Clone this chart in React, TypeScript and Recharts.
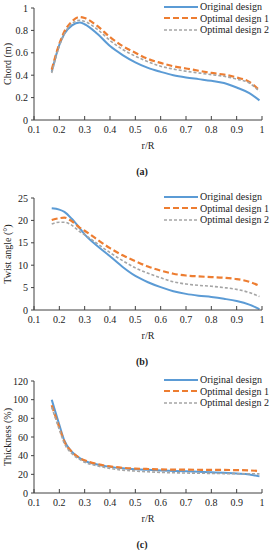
import { LineChart, Line, XAxis, YAxis, Legend } from "recharts"

// r/R stations
const rR = [0.17, 0.2, 0.22, 0.25, 0.28, 0.3, 0.35, 0.4, 0.45, 0.5, 0.55, 0.6, 0.65, 0.7, 0.75, 0.8, 0.85, 0.9, 0.95, 0.99]

const chordOriginal = [0.43, 0.67, 0.77, 0.845, 0.87, 0.855, 0.77, 0.66, 0.58, 0.515, 0.465, 0.43, 0.4, 0.38, 0.365, 0.35, 0.33, 0.29, 0.24, 0.175]
const chordOpt1 = [0.45, 0.68, 0.79, 0.88, 0.92, 0.91, 0.84, 0.74, 0.66, 0.6, 0.545, 0.51, 0.48, 0.46, 0.44, 0.42, 0.405, 0.38, 0.34, 0.265]
const chordOpt2 = [0.42, 0.66, 0.77, 0.86, 0.89, 0.88, 0.81, 0.71, 0.63, 0.57, 0.52, 0.48, 0.455, 0.435, 0.42, 0.405, 0.39, 0.365, 0.33, 0.255]

const twistOriginal = [22.7, 22.4, 21.9, 20.3, 18.3, 16.9, 14.3, 12.0, 9.6, 7.6, 6.2, 5.1, 4.2, 3.6, 3.2, 2.9, 2.5, 2.0, 1.2, 0.2]
const twistOpt1 = [20.1, 20.5, 20.6, 19.8, 18.4, 17.7, 15.7, 13.8, 12.2, 10.9, 9.7, 8.8, 8.1, 7.7, 7.5, 7.35, 7.2, 6.9, 6.3, 5.4]
const twistOpt2 = [19.2, 19.6, 19.6, 18.9, 17.5, 16.8, 14.8, 12.8, 11.0, 9.4, 8.2, 7.2, 6.3, 5.8, 5.5, 5.3, 5.0, 4.6, 3.9, 3.0]

const thickOriginal = [100, 73, 56, 44, 37.5, 34.5, 30.5, 28, 26.5, 25.5, 24.8, 24.2, 23.7, 23.2, 22.7, 22.2, 21.6, 20.8, 19.8, 17.8]
const thickOpt1 = [94, 70, 55, 44, 37.5, 35, 31, 28.5, 27, 26.2, 25.7, 25.3, 25.1, 25, 24.9, 24.8, 24.7, 24.5, 24.2, 23.6]
const thickOpt2 = [92, 68, 53, 42, 36, 33, 29, 26.3, 24.5, 23.5, 22.7, 22.1, 21.7, 21.4, 21.2, 21, 20.8, 20.7, 20.6, 20.5]

const xTicks = [0.1, 0.2, 0.3, 0.4, 0.5, 0.6, 0.7, 0.8, 0.9, 1]
const chordTicks = [0, 0.2, 0.4, 0.6, 0.8, 1]
const twistTicks = [0, 5, 10, 15, 20, 25]
const thickTicks = [0, 20, 40, 60, 80, 100, 120]

const SERIES = [
  { key: "orig", name: "Original design", color: "#5B9BD5", width: 2, dash: undefined },
  { key: "opt1", name: "Optimal design 1", color: "#ED7D31", width: 2.2, dash: "6 3" },
  { key: "opt2", name: "Optimal design 2", color: "#A5A5A5", width: 1.6, dash: "3 2" },
]

const FONT = "'Liberation Serif', 'Times New Roman', serif"
const AXIS = "#404040"

function rows(a: number[], b: number[], c: number[]) {
  return rR.map((r, i) => ({ r, orig: a[i], opt1: b[i], opt2: c[i] }))
}

const fmt = (v: number) => (v === 0 || v === 1 ? String(v) : String(v))
const fmtX = (v: number) => (v === 1 ? "1" : v.toFixed(1))

function LegendBox() {
  return (
    <div style={{ fontFamily: FONT, fontSize: 10, color: "#222" }}>
      {SERIES.map((s) => (
        <div key={s.key} style={{ display: "flex", alignItems: "center", height: 11.5 }}>
          <svg width={35} height={6} style={{ marginRight: 1 }}>
            <line x1={0} y1={3} x2={34} y2={3} stroke={s.color} strokeWidth={s.width} strokeDasharray={s.dash} />
          </svg>
          <span style={{ lineHeight: "11.5px" }}>{s.name}</span>
        </div>
      ))}
    </div>
  )
}

function YLabel(props: any) {
  const { viewBox, value } = props
  const cx = 7
  const cy = viewBox.y + viewBox.height / 2
  return (
    <text
      x={cx}
      y={cy}
      transform={`rotate(-90 ${cx} ${cy})`}
      textAnchor="middle"
      dominantBaseline="central"
      fontFamily={FONT}
      fontSize={10}
      fill="#222"
    >
      {value}
    </text>
  )
}

interface PanelProps {
  top: number
  data: Record<string, number>[]
  yTicks: number[]
  yLabel: string
  caption: string
  captionY: number
}

function Panel({ top, data, yTicks, yLabel, caption, captionY }: PanelProps) {
  const tickStyle = { fontFamily: FONT, fontSize: 10, fill: "#222" }
  return (
    <>
      <div style={{ position: "absolute", left: 0, top }}>
        <LineChart width={271} height={152} data={data} margin={{ top: 8, right: 9, bottom: 0, left: 0 }}>
          <XAxis
            dataKey="r"
            type="number"
            domain={[0.1, 1]}
            ticks={xTicks}
            tickFormatter={fmtX}
            tick={tickStyle}
            height={32}
            stroke={AXIS}
            tickSize={-4}
            tickMargin={10}
            label={{ value: "r/R", position: "insideBottom", offset: 3, style: { fontFamily: FONT, fontSize: 10, fill: "#222" } }}
          />
          <YAxis
            type="number"
            domain={[yTicks[0], yTicks[yTicks.length - 1]]}
            ticks={yTicks}
            tickFormatter={fmt}
            tick={tickStyle}
            width={34}
            stroke={AXIS}
            tickSize={3}
            tickMargin={3}
            label={<YLabel value={yLabel} />}
          />
          <Legend
            layout="vertical"
            align="center"
            verticalAlign="middle"
            wrapperStyle={{ left: 164, top: 1, width: 110 }}
            content={() => <LegendBox />}
          />
          {SERIES.map((s) => (
            <Line
              key={s.key}
              type="monotone"
              dataKey={s.key}
              name={s.name}
              stroke={s.color}
              strokeWidth={s.width}
              strokeDasharray={s.dash}
              dot={false}
              isAnimationActive={false}
            />
          ))}
        </LineChart>
      </div>
      <div
        style={{
          position: "absolute",
          left: 122,
          width: 40,
          top: captionY - 6,
          height: 12,
          lineHeight: "12px",
          textAlign: "center",
          fontFamily: FONT,
          fontSize: 10,
          fontWeight: "bold",
          color: "#222",
        }}
      >
        {caption}
      </div>
    </>
  )
}

export default function App() {
  return (
    <div style={{ position: "absolute", left: 0, top: 0, width: 271, height: 550, background: "#fff", overflow: "hidden" }}>
      <Panel top={0} data={rows(chordOriginal, chordOpt1, chordOpt2)} yTicks={chordTicks} yLabel="Chord (m)" caption="(a)" captionY={172} />
      <Panel top={190} data={rows(twistOriginal, twistOpt1, twistOpt2)} yTicks={twistTicks} yLabel="Twist angle (°)" caption="(b)" captionY={361.7} />
      <Panel top={373} data={rows(thickOriginal, thickOpt1, thickOpt2)} yTicks={thickTicks} yLabel="Thickness (%)" caption="(c)" captionY={545} />
    </div>
  )
}
